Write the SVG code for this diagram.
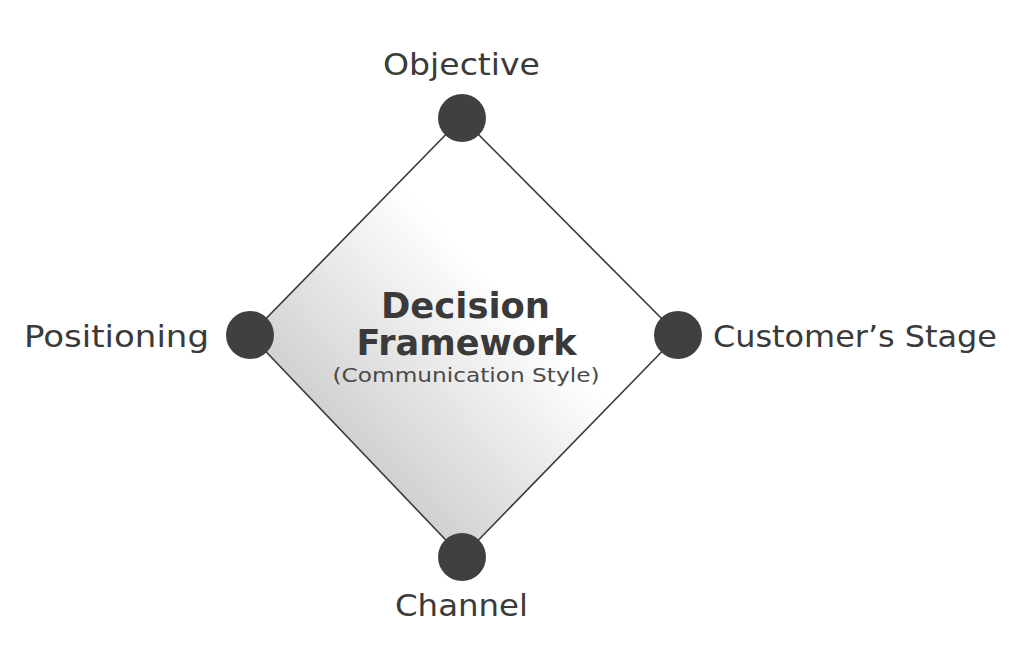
<svg xmlns="http://www.w3.org/2000/svg" width="1024" height="656" viewBox="0 0 1024 656">
<style>
.lbl{font-family:"DejaVu Sans","Liberation Sans",sans-serif;font-size:30px;fill:#3a3a3a;text-anchor:middle}
.title{font-family:"DejaVu Sans","Liberation Sans",sans-serif;font-size:36px;font-weight:bold;fill:#3a3a3a;text-anchor:middle}
.sub{font-family:"DejaVu Sans","Liberation Sans",sans-serif;font-size:20px;fill:#4a4a4a;text-anchor:middle}
.dot{fill:#404040}
.edge{stroke:#3a3a3a;stroke-width:1.6;fill:none}
</style>
<defs>
<linearGradient id="g" x1="0.15" y1="0.85" x2="0.6" y2="0.4">
<stop offset="0" stop-color="#c4c4c4"/>
<stop offset="1" stop-color="#ffffff"/>
</linearGradient>
</defs>
<rect width="1024" height="656" fill="#fff"/>
<g id="diamond">
<polygon points="462,118 678,335 462,557 250,335" fill="url(#g)"/>
</g>
<g id="connectors">
<line class="edge" x1="462" y1="118" x2="678" y2="335"/>
<line class="edge" x1="678" y1="335" x2="462" y2="557"/>
<line class="edge" x1="462" y1="557" x2="250" y2="335"/>
<line class="edge" x1="250" y1="335" x2="462" y2="118"/>
</g>
<g id="center">
<text class="title" x="465.5" y="318" textLength="169" lengthAdjust="spacingAndGlyphs">Decision</text>
<text class="title" x="466.5" y="355" textLength="220" lengthAdjust="spacingAndGlyphs">Framework</text>
<text class="sub" x="466" y="382" textLength="267" lengthAdjust="spacingAndGlyphs">(Communication Style)</text>
</g>
<g id="objective">
<circle class="dot" cx="462" cy="118" r="24"/>
<text class="lbl" x="461.5" y="75" textLength="157" lengthAdjust="spacingAndGlyphs">Objective</text>
</g>
<g id="positioning">
<circle class="dot" cx="250" cy="335" r="24"/>
<text class="lbl" x="116.5" y="347" textLength="185" lengthAdjust="spacingAndGlyphs">Positioning</text>
</g>
<g id="stage">
<circle class="dot" cx="678" cy="335" r="24"/>
<text class="lbl" x="855" y="347" textLength="284" lengthAdjust="spacingAndGlyphs">Customer’s Stage</text>
</g>
<g id="channel">
<circle class="dot" cx="462" cy="557" r="24"/>
<text class="lbl" x="461.5" y="616" textLength="133" lengthAdjust="spacingAndGlyphs">Channel</text>
</g>
</svg>
